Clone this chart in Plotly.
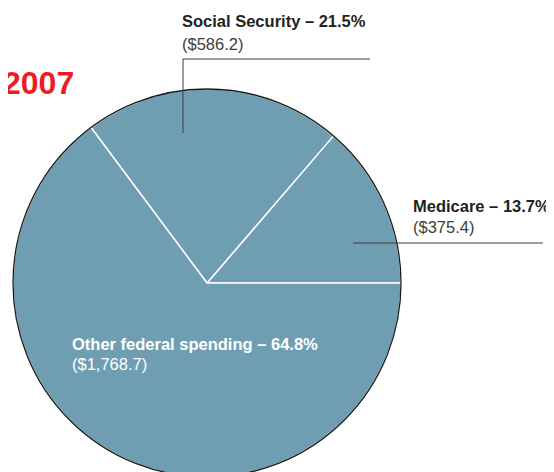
import plotly.graph_objects as go

W, H = 554, 472
OFF = 8  # page body margin offset

categories = ["Medicare", "Social Security", "Other federal spending"]
percents = [13.7, 21.5, 64.8]
dollars = ["$375.4", "$586.2", "$1,768.7"]
year_label = "2007"

FILL = "#6f9eb3"
DARK = "#231f20"
GRAY = "#3d3d3d"


def px(x):
    return (x - OFF) / W


def py(y):
    return 1 - (y - OFF) / H


# pie geometry (window pixels)
cx, cy, r = 207, 283, 194

# first slice (Medicare) starts at 3 o'clock, going counterclockwise
rotation = 90 - percents[0] / sum(percents) * 360

fig = go.Figure()
fig.add_trace(go.Pie(
    labels=categories,
    values=percents,
    sort=False,
    direction="counterclockwise",
    rotation=rotation,
    marker=dict(colors=[FILL] * 3, line=dict(color="white", width=1.5)),
    textinfo="none",
    hoverinfo="skip",
    domain=dict(x=[px(cx - r), px(cx + r)], y=[py(cy + r), py(cy - r)]),
    showlegend=False,
))

shapes = [
    dict(type="circle", xref="paper", yref="paper",
         x0=px(cx - r), x1=px(cx + r), y0=py(cy + r), y1=py(cy - r),
         line=dict(color="#1a1a1a", width=1.3), fillcolor="rgba(0,0,0,0)", layer="above"),
    # Social Security leader
    dict(type="line", xref="paper", yref="paper", x0=px(183), x1=px(183), y0=py(133), y1=py(59),
         line=dict(color=GRAY, width=1)),
    dict(type="line", xref="paper", yref="paper", x0=px(183), x1=px(370), y0=py(59), y1=py(59),
         line=dict(color=GRAY, width=1)),
    # Medicare leader
    dict(type="line", xref="paper", yref="paper", x0=px(353), x1=px(543), y0=py(243), y1=py(243),
         line=dict(color=GRAY, width=1)),
]

FONT = "Liberation Sans"
annotations = []


def label(x, y_bold, y_norm, idx, col_bold, col_norm):
    annotations.append(dict(
        x=px(x), y=py(y_bold), xref="paper", yref="paper", xanchor="left", yanchor="middle",
        text=f"<b>{categories[idx]} – {percents[idx]}%</b>", showarrow=False,
        font=dict(family=FONT, size=16.5, color=col_bold)))
    annotations.append(dict(
        x=px(x), y=py(y_norm), xref="paper", yref="paper", xanchor="left", yanchor="middle",
        text=f"({dollars[idx]})", showarrow=False,
        font=dict(family=FONT, size=16.5, color=col_norm)))


label(180, 21, 44, 1, DARK, GRAY)
label(411, 206, 227, 0, DARK, GRAY)
label(70, 344, 364, 2, "white", "white")

annotations.append(dict(
    x=px(76), y=py(83), xref="paper", yref="paper", xanchor="right", yanchor="middle",
    text=f"<b>{year_label}</b>", showarrow=False,
    font=dict(family=FONT, size=32, color="#ed1c24")))

fig.update_layout(
    width=W, height=H,
    margin=dict(l=0, r=0, t=0, b=0),
    paper_bgcolor="white", plot_bgcolor="white",
    shapes=shapes, annotations=annotations,
    showlegend=False,
)

fig.write_html("out.html")
